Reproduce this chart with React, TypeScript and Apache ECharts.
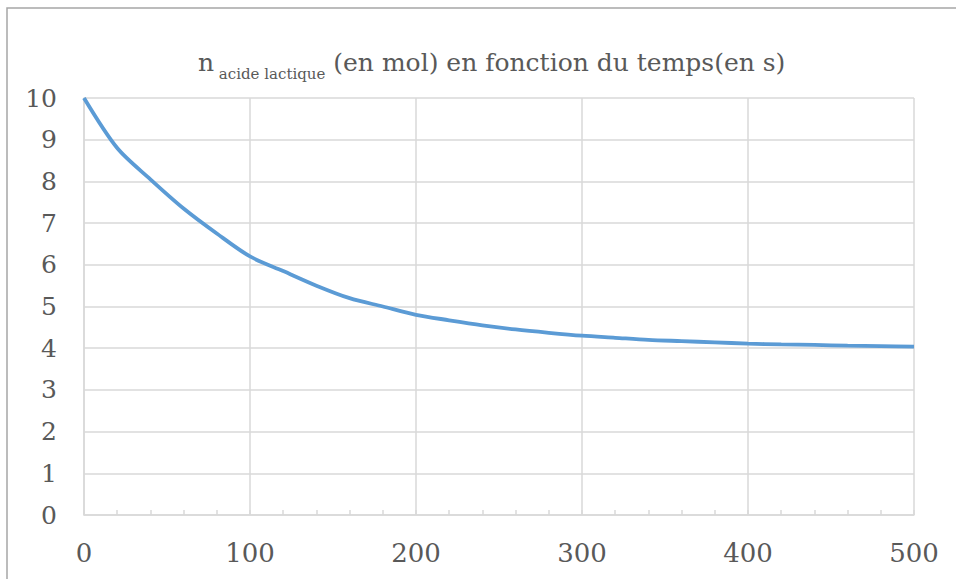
import React, { useEffect, useRef } from "react";
import * as echarts from "echarts";

const times = [0, 20, 40, 60, 80, 100, 120, 140, 160, 180, 200, 220, 240, 260, 280, 300, 320, 340, 360, 380, 400, 420, 440, 460, 480, 500];
const amounts = [10, 8.8, 8.05, 7.35, 6.75, 6.2, 5.85, 5.5, 5.2, 5.0, 4.8, 4.67, 4.55, 4.45, 4.37, 4.3, 4.25, 4.2, 4.17, 4.14, 4.11, 4.09, 4.08, 4.06, 4.05, 4.04];
const titleMain = "n";
const titleSub = "acide lactique";
const titleRest = "(en mol) en fonction du temps(en s)";

const FONT = "DejaVu Serif";
const TEXT = "#595959";
const GRID = "#d9d9d9";

export default function App() {
  const ref = useRef<HTMLDivElement>(null);
  useEffect(() => {
    if (!ref.current) return;
    const chart = echarts.init(ref.current, undefined, { renderer: "svg" });
    chart.setOption({
      animation: false,
      backgroundColor: "#ffffff",
      title: {
        text: `{n|${titleMain}}{s| ${titleSub}}{n| ${titleRest}}`,
        left: 193,
        top: 40,
        textStyle: {
          fontFamily: FONT,
          fontWeight: "normal",
          fontSize: 25,
          color: TEXT,
          rich: {
            n: { fontFamily: FONT, fontWeight: "normal", fontSize: 25, color: TEXT, verticalAlign: "bottom", lineHeight: 30 },
            s: { fontFamily: FONT, fontWeight: "normal", fontSize: 15, color: TEXT, verticalAlign: "bottom", lineHeight: 30, padding: [0, 0, -6, 0] },
          },
        },
      },
      graphic: [
        {
          type: "rect",
          shape: { x: 7, y: 8, width: 1000, height: 700 },
          style: { fill: "none", stroke: "#a6a6a6", lineWidth: 1.5 },
          silent: true,
          z: -1,
        },
      ],
      grid: { left: 84, right: 42, top: 98, bottom: 64, containLabel: false },
      xAxis: {
        type: "value",
        min: 0,
        max: 500,
        interval: 100,
        axisLine: { show: true, lineStyle: { color: GRID, width: 1.5 } },
        axisTick: { show: true, inside: true, length: 5, lineStyle: { color: GRID, width: 1.5 } },
        minorTick: { show: true, splitNumber: 5, length: 5, lineStyle: { color: GRID, width: 1.5 } },
        splitLine: { show: true, lineStyle: { color: GRID, width: 1.5 } },
        axisLabel: { color: TEXT, fontFamily: FONT, fontSize: 26, margin: 25 },
      },
      yAxis: {
        type: "value",
        min: 0,
        max: 10,
        interval: 1,
        axisLine: { show: true, lineStyle: { color: GRID, width: 1.5 } },
        axisTick: { show: false },
        splitLine: { show: true, lineStyle: { color: GRID, width: 1.5 } },
        axisLabel: { color: TEXT, fontFamily: FONT, fontSize: 25, margin: 27 },
      },
      series: [
        {
          type: "line",
          data: times.map((t, i) => [t, amounts[i]]),
          showSymbol: false,
          smooth: 0.3,
          lineStyle: { color: "#5b9bd5", width: 3.8 },
          itemStyle: { color: "#5b9bd5" },
        },
      ],
    });
    return () => chart.dispose();
  }, []);
  return (
    <div
      ref={ref}
      style={{ position: "absolute", left: 0, top: 0, width: 956, height: 579 }}
    />
  );
}
